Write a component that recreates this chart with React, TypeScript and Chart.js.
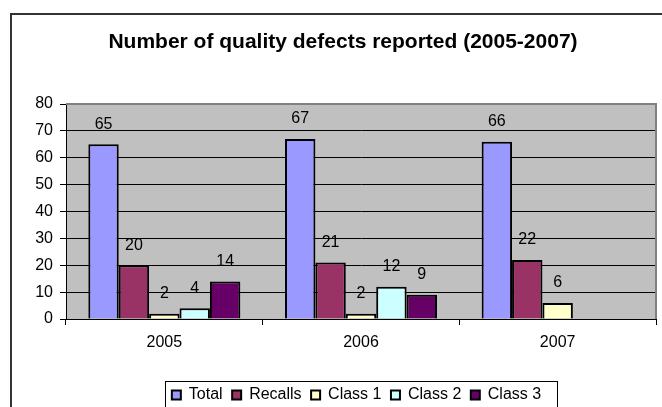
import React, { useEffect, useRef } from 'react';
import { Chart, registerables } from 'chart.js';

Chart.register(...registerables);

// ---- data ----
const categories = ['2005', '2006', '2007'];
const seriesNames = ['Total', 'Recalls', 'Class 1', 'Class 2', 'Class 3'];
const totalValues = [65, 67, 66];
const recallValues = [20, 21, 22];
const class1Values = [2, 2, 6];
const class2Values: (number | null)[] = [4, 12, null];
const class3Values: (number | null)[] = [14, 9, null];
const seriesColors = ['#9999FF', '#993366', '#FFFFCC', '#CCFFFF', '#660066'];
const yMin = 0;
const yMax = 80;
const yStep = 10;
const chartTitle = 'Number of quality defects reported (2005-2007)';

const FONT = "'Liberation Sans', Arial, sans-serif";

const framePlugin = {
  id: 'framePlugin',
  beforeDraw(chart: any) {
    const { ctx, chartArea: a } = chart;
    ctx.save();
    ctx.fillStyle = '#ffffff';
    ctx.fillRect(0, 0, chart.width, chart.height);
    // outer chart border
    ctx.strokeStyle = '#333333';
    ctx.lineWidth = 2;
    ctx.strokeRect(11, 14, 664, 460);
    // plot background
    ctx.fillStyle = '#C0C0C0';
    ctx.fillRect(a.left, a.top, a.right - a.left, a.bottom - a.top);
    // legend frame
    const lg = chart.legend;
    if (lg) {
      const cx = (a.left + a.right) / 2;
      const top = Math.round(lg.top + 3.5) + 0.5;
      ctx.fillStyle = '#ffffff';
      ctx.fillRect(cx - 196, top, 392, 60);
      ctx.strokeStyle = '#000000';
      ctx.lineWidth = 1;
      ctx.strokeRect(Math.round(cx - 196) + 0.5, top, 392, 60);
    }
    ctx.restore();
  },
  beforeDatasetsDraw(chart: any) {
    const { ctx, chartArea: a } = chart;
    ctx.save();
    ctx.strokeStyle = '#808080';
    ctx.lineWidth = 2;
    ctx.beginPath();
    ctx.moveTo(a.left, a.top);
    ctx.lineTo(a.right, a.top);
    ctx.lineTo(a.right, a.bottom);
    ctx.stroke();
    ctx.restore();
  },
  afterDatasetsDraw(chart: any) {
    const { ctx } = chart;
    ctx.save();
    ctx.font = `16px ${FONT}`;
    ctx.fillStyle = '#000000';
    ctx.textAlign = 'center';
    ctx.textBaseline = 'middle';
    chart.data.datasets.forEach((ds: any, i: number) => {
      const meta = chart.getDatasetMeta(i);
      meta.data.forEach((el: any, j: number) => {
        const v = ds.data[j];
        if (v === null || v === undefined) return;
        ctx.fillText(String(v), el.x, el.y - 20);
      });
    });
    ctx.restore();
  },
};

export default function App() {
  const canvasRef = useRef<HTMLCanvasElement | null>(null);

  useEffect(() => {
    document.body.style.margin = '0';
    const canvas = canvasRef.current;
    if (!canvas) return;
    const seriesValues = [totalValues, recallValues, class1Values, class2Values, class3Values];
    const chart = new Chart(canvas, {
      type: 'bar',
      data: {
        labels: categories,
        datasets: seriesNames.map((name, i) => ({
          label: name,
          data: seriesValues[i],
          backgroundColor: seriesColors[i],
          borderColor: '#000000',
          borderWidth: 2,
          borderSkipped: 'start',
          categoryPercentage: 0.773,
          barPercentage: 1.0,
        })),
      },
      options: {
        responsive: false,
        animation: false,
        devicePixelRatio: 1,
        layout: { padding: { left: 11, right: 15, top: 14, bottom: 17 } },
        plugins: {
          title: {
            display: true,
            text: chartTitle,
            color: '#000000',
            font: { family: FONT, size: 21, weight: 'bold' },
            padding: { top: 16, bottom: 48.8 },
          },
          legend: {
            display: true,
            position: 'bottom',
            fullSize: false,
            labels: {
              color: '#000000',
              font: { family: FONT, size: 16 },
              boxWidth: 9,
              boxHeight: 9,
              padding: 9.5,
              generateLabels: (chart: any) => {
                const items = Chart.defaults.plugins.legend.labels.generateLabels(chart);
                return items.map((it: any) => ({ ...it, lineWidth: 2, strokeStyle: '#000000' }));
              },
            },
          },
          tooltip: { enabled: false },
        },
        scales: {
          x: {
            grid: {
              display: true,
              drawOnChartArea: false,
              drawTicks: true,
              tickLength: 6,
              tickColor: '#000000',
              offset: true,
            },
            border: { display: true, color: '#000000', width: 1 },
            ticks: {
              color: '#000000',
              font: { family: FONT, size: 16 },
              padding: 8,
            },
            afterFit: (s: any) => {
              s.height = 58.5;
            },
          },
          y: {
            min: yMin,
            max: yMax,
            ticks: {
              stepSize: yStep,
              color: '#000000',
              font: { family: FONT, size: 16 },
              padding: 7,
            },
            grid: {
              color: (c: any) => (c.tick && c.tick.value === yMax ? '#808080' : '#000000'),
              lineWidth: 1,
              tickLength: 6,
              tickColor: '#000000',
            },
            border: { display: true, color: '#000000', width: 1 },
            afterFit: (s: any) => {
              s.width = 55;
            },
          },
          yRight: {
            type: 'linear',
            position: 'right',
            display: true,
            min: 0,
            max: 1,
            grid: { display: false, drawTicks: false },
            ticks: { display: false },
            border: { display: false },
            afterFit: (s: any) => {
              s.width = 19;
            },
          },
        },
      },
      plugins: [framePlugin],
    } as any);

    // shift the legend content slightly left, as in the reference
    const lg: any = (chart as any).legend;
    if (lg) {
      const origDraw = lg.draw.bind(lg);
      lg.draw = function (area: any) {
        const ctx = (chart as any).ctx;
        ctx.save();
        ctx.translate(-4.5, 0);
        origDraw(area);
        ctx.restore();
      };
      chart.draw();
    }
    return () => chart.destroy();
  }, []);

  return (
    <div style={{ position: 'fixed', left: 0, top: 0, width: 662, height: 407, overflow: 'hidden', background: '#fff' }}>
      <canvas ref={canvasRef} width={690} height={430} style={{ display: 'block', width: 690, height: 430 }} />
    </div>
  );
}
